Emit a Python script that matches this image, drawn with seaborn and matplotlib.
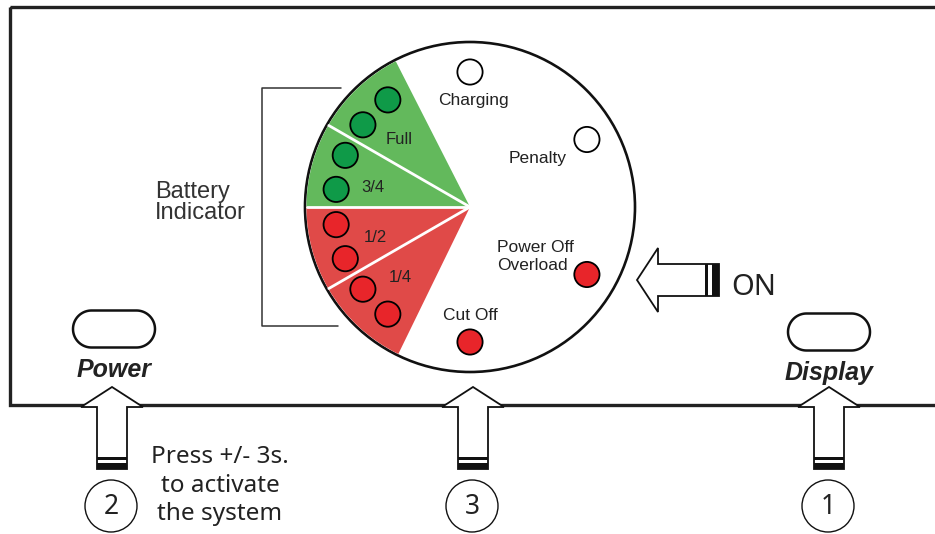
import numpy as np
import pandas as pd
import matplotlib
matplotlib.use("Agg")
import matplotlib.pyplot as plt
from matplotlib.patches import Circle, Wedge, Polygon, Rectangle
import seaborn as sns

# indicator lamps on the dial (angle in degrees, state)
led_angles = [127.5, 142.5, 157.5, 172.5, 187.5, 202.5, 217.5, 232.5, 90, 30, -30, -90]
led_states = ['green'] * 4 + ['red'] * 4 + ['off', 'off', 'red', 'red']

# battery sectors (start, end angle, colour group)
sector_edges = [117, 150, 180, 210, 244]
sector_groups = ['green', 'green', 'red', 'red']
sector_labels = ['Full', '3/4', '1/2', '1/4']
sector_label_xy = [(399, 139), (373, 187), (375, 238), (400, 277)]

dial_labels = ['Charging', 'Penalty', 'Cut Off']
dial_label_xy = [(473, 100), (538, 158), (470, 316)]

buttons = ['Power', 'Display']
button_xy = [(114, 329), (829, 332)]
step_numbers = ['2', '3', '1']
step_x = [112, 473, 829]
press_note = ['Press +/- 3s.', 'to activate', 'the system']

colors = {'green': '#63b95c', 'red': '#e04a48', 'led_green': '#0f9a48',
          'led_red': '#e8252a', 'off': 'white'}

sns.set_theme(style='white')
plt.rcParams['font.family'] = ['Liberation Sans', 'DejaVu Sans']

fig = plt.figure(figsize=(9.35, 5.34), dpi=100)
ax = fig.add_axes([0, 0, 1, 1])
ax.set_xlim(0, 935)
ax.set_ylim(534, 0)
ax.axis('off')

# housing outline
ax.add_patch(Rectangle((10, 7), 1000, 398, fill=False, lw=2.4, ec='#222222', zorder=1))

# dial
cx, cy, R = 470, 207, 165
ax.add_patch(Circle((cx, cy), R, fc='white', ec='#111111', lw=1.9, zorder=2))
for k, grp in enumerate(sector_groups):
    a1, a2 = sector_edges[k], sector_edges[k + 1]
    ax.add_patch(Wedge((cx, cy), R - 1.5, -a2, -a1, fc=colors[grp], ec='none', zorder=3))
for a in sector_edges[1:-1]:
    ax.plot([cx, cx + (R - 2) * np.cos(np.radians(a))],
            [cy, cy - (R - 2) * np.sin(np.radians(a))], color='white', lw=2.0, zorder=4)

led = pd.DataFrame({
    'x': [cx + 135 * np.cos(np.radians(a)) for a in led_angles],
    'y': [cy - 135 * np.sin(np.radians(a)) for a in led_angles],
    'state': led_states,
})
sns.scatterplot(data=led, x='x', y='y', hue='state', ax=ax, s=330,
                palette={'green': colors['led_green'], 'red': colors['led_red'], 'off': 'white'},
                edgecolor='black', linewidth=1.3, legend=False, zorder=5)

for t, (x, y) in zip(sector_labels, sector_label_xy):
    ax.text(x, y, t, ha='center', va='center', fontsize=12, color='#222222', zorder=6)
for t, (x, y) in zip(dial_labels, dial_label_xy):
    ax.text(x, y, t, ha='center', va='center', fontsize=12.5, color='#222222', zorder=6)
ax.text(497, 248, 'Power Off', ha='left', va='center', fontsize=12.5, color='#222222', zorder=6)
ax.text(497, 266, 'Overload', ha='left', va='center', fontsize=12.5, color='#222222', zorder=6)

# battery bracket
ax.plot([341, 262, 262, 338], [88, 88, 326, 326], color='#333333', lw=1.1, zorder=1)
ax.text(155, 198, 'Battery', ha='left', va='baseline', fontsize=17, color='#333333')
ax.text(155, 219, 'Indicator', ha='left', va='baseline', fontsize=17, color='#333333')


def stadium(x, y, w, h):
    r = h / 2
    t = np.linspace(-np.pi / 2, np.pi / 2, 40)
    right = np.column_stack([x + w / 2 - r + r * np.cos(t), y + r * np.sin(t)])
    left = np.column_stack([x - w / 2 + r - r * np.cos(t), y - r * np.sin(t)])
    return Polygon(np.vstack([right, left]), closed=True, fc='white',
                   ec='#111111', lw=1.8, zorder=3)


# buttons
for name, (x, y) in zip(buttons, button_xy):
    ax.add_patch(stadium(x, y, 82, 37))
    ax.text(x, y + 41, name, ha='center', va='center', fontsize=18,
            fontweight='bold', fontstyle='italic', color='#222222')


def up_arrow(x):
    pts = [(x, 387), (x + 31, 407), (x + 15, 407), (x + 15, 469),
           (x - 15, 469), (x - 15, 407), (x - 31, 407)]
    ax.add_patch(Polygon(pts, closed=True, fc='white', ec='#111111', lw=1.3, zorder=4))
    ax.add_patch(Rectangle((x - 15, 456.5), 30, 3, fc='#111111', ec='none', zorder=5))
    ax.add_patch(Rectangle((x - 15, 462.5), 30, 6.5, fc='#111111', ec='none', zorder=5))


for k, x in enumerate(step_x):
    up_arrow(x)
    ax.add_patch(Circle((x - 1, 506), 26, fc='white', ec='#111111', lw=1.0, zorder=4))
    ax.text(x - 1, 507, step_numbers[k], ha='center', va='center', fontsize=19,
            family=['Noto Sans', 'DejaVu Sans'], color='#222222', zorder=5)

# ON arrow
on_pts = [(637, 280), (658, 248), (658, 264), (719, 264), (719, 296), (658, 296), (658, 312)]
ax.add_patch(Polygon(on_pts, closed=True, fc='white', ec='#111111', lw=1.3, zorder=4))
ax.add_patch(Rectangle((705, 264), 3, 32, fc='#111111', ec='none', zorder=5))
ax.add_patch(Rectangle((712, 264), 7, 32, fc='#111111', ec='none', zorder=5))
ax.text(731, 295, 'ON', ha='left', va='baseline', fontsize=21,
        family=['Noto Sans', 'DejaVu Sans'], color='#222222')

for k, t in enumerate(press_note):
    ax.text(220, 463 + 28.5 * k, t, ha='center', va='baseline', fontsize=17.5,
            family=['Noto Sans', 'DejaVu Sans'], color='#222222')

fig.savefig('out.png', dpi=100)
